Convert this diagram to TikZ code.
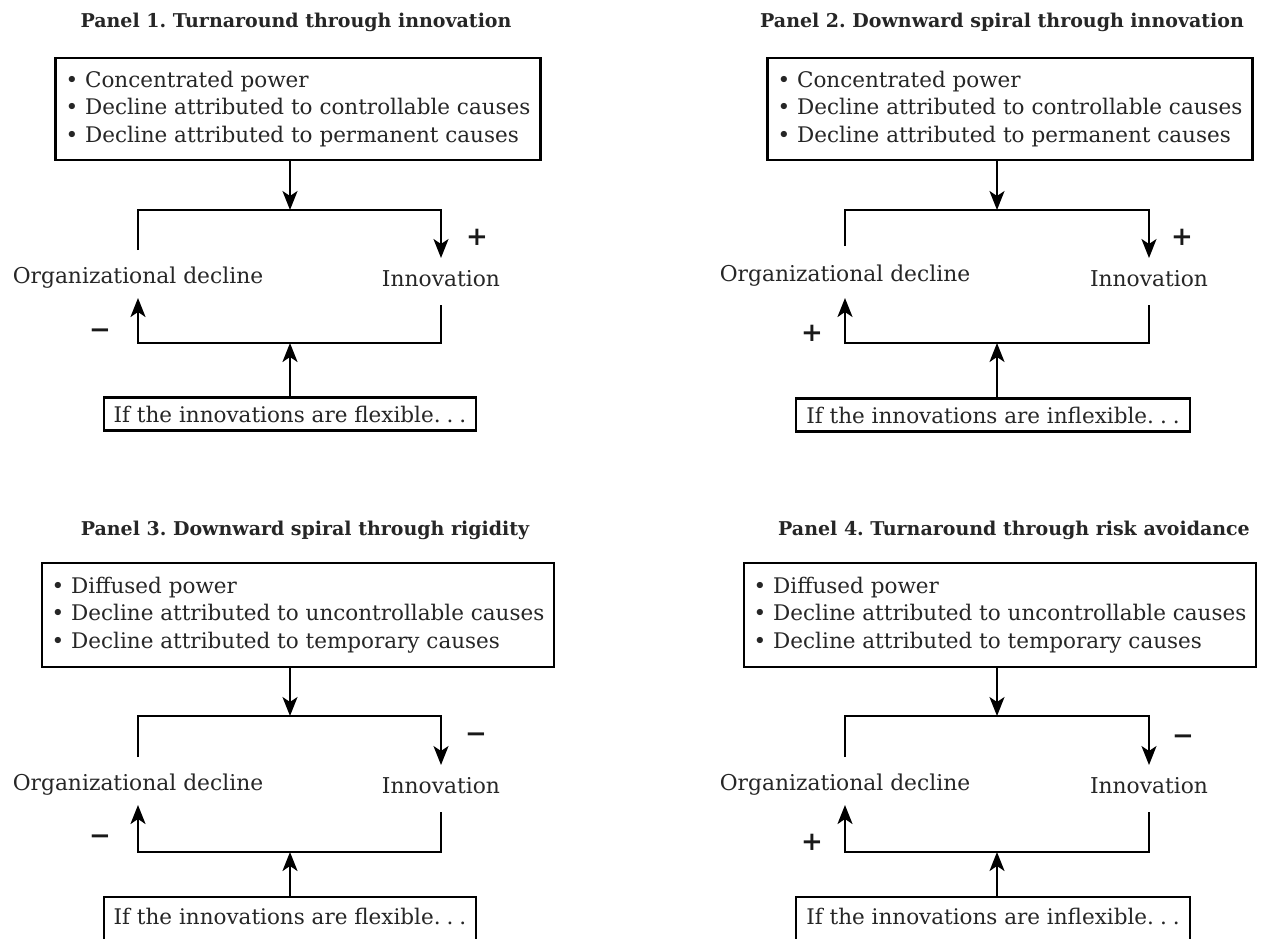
\documentclass[tikz,border=0pt]{standalone}
\usepackage{fontspec}
\setmainfont{DejaVu Serif}
\usetikzlibrary{arrows.meta}
\frenchspacing

\newcommand{\spaceddots}{.\kern6pt.\kern6pt.}

\tikzset{
  x=1pt, y=-1pt,
  every node/.style={inner sep=0pt, outer sep=0pt},
  paneltitle/.style={font=\bfseries\fontsize{19}{22}\selectfont, text=black!85},
  factorbox/.style={draw, line width=2.2pt, align=left, inner xsep=10pt,
    minimum height=102pt, font=\fontsize{21.5}{27.5}\selectfont, text=black!85},
  looplabel/.style={minimum height=48pt, font=\fontsize{21.8}{24}\selectfont, text=black!85},
  condbox/.style={draw, line width=2.2pt, inner xsep=10pt, minimum height=33pt,
    font=\fontsize{21.5}{24}\selectfont, text=black!85},
  sign/.style={font=\bfseries\fontsize{26}{28}\selectfont, text=black!90},
  link/.style={line width=2.2pt, line join=miter},
  arrowlink/.style={link, -{Stealth[length=19pt, width=15pt, inset=5pt]}},
}

\begin{document}
\begin{tikzpicture}
\useasboundingbox (0,0) rectangle (1265,938);
\fill[white] (0,0) rectangle (1265,938);
\clip (0,0) rectangle (1265,938);

% ---------- Panel 1 ----------
\node[paneltitle] (p1title) at (296,22) {Panel 1. Turnaround through innovation};
\node[factorbox] (p1box) at (298,109) {\textbullet\ Concentrated power\\
  \textbullet\ Decline attributed to controllable causes\\
  \textbullet\ Decline attributed to permanent causes};
\node[looplabel] (p1decl) at (138,278) {Organizational decline};
\node[looplabel] (p1innov) at (441,279) {Innovation};
\node[condbox] (p1cond) at (290,414) {If the innovations are flexible\spaceddots};
\coordinate (p1top) at (290,210);
\coordinate (p1bot) at (290,343);
\draw[arrowlink] (p1box.south -| p1top) -- (p1top);
\draw[arrowlink] ([yshift=4pt]p1decl.north) |- (p1top) -| ([yshift=-3pt]p1innov.north);
\draw[arrowlink] ([yshift=-2pt]p1innov.south) |- (p1bot) -| ([yshift=4pt]p1decl.south);
\draw[arrowlink] (p1cond.north -| p1bot) -- (p1bot);
\node[sign] (p1up) at (477,237) {+};
\node[sign] (p1down) at (100,334) {−};

% ---------- Panel 2 ----------
\node[paneltitle] (p2title) at (1002,22) {Panel 2. Downward spiral through innovation};
\node[factorbox] (p2box) at (1010,109) {\textbullet\ Concentrated power\\
  \textbullet\ Decline attributed to controllable causes\\
  \textbullet\ Decline attributed to permanent causes};
\node[looplabel] (p2decl) at (845,276) {Organizational decline};
\node[looplabel] (p2innov) at (1149,279) {Innovation};
\node[condbox] (p2cond) at (993,415) {If the innovations are inflexible\spaceddots};
\coordinate (p2top) at (997,210);
\coordinate (p2bot) at (997,343);
\draw[arrowlink] (p2box.south -| p2top) -- (p2top);
\draw[arrowlink] ([yshift=6pt]p2decl.north) |- (p2top) -| ([yshift=-3pt]p2innov.north);
\draw[arrowlink] ([yshift=-2pt]p2innov.south) |- (p2bot) -| ([yshift=2pt]p2decl.south);
\draw[arrowlink] (p2cond.north -| p2bot) -- (p2bot);
\node[sign] (p2up) at (1182,237) {+};
\node[sign] (p2down) at (812,333) {+};

% ---------- Panel 3 ----------
\node[paneltitle] (p3title) at (305,530) {Panel 3. Downward spiral through rigidity};
\node[factorbox, minimum height=104pt] (p3box) at (298,615) {\textbullet\ Diffused power\\
  \textbullet\ Decline attributed to uncontrollable causes\\
  \textbullet\ Decline attributed to temporary causes};
\node[looplabel] (p3decl) at (138,785) {Organizational decline};
\node[looplabel] (p3innov) at (441,786) {Innovation};
\node[condbox, minimum height=44pt, anchor=north] (p3cond) at (290,897) {\raisebox{5pt}{If the innovations are flexible\spaceddots}};
\coordinate (p3top) at (290,716);
\coordinate (p3bot) at (290,852);
\draw[arrowlink] (p3box.south -| p3top) -- (p3top);
\draw[arrowlink] ([yshift=4pt]p3decl.north) |- (p3top) -| ([yshift=-3pt]p3innov.north);
\draw[arrowlink] ([yshift=-2pt]p3innov.south) |- (p3bot) -| ([yshift=4pt]p3decl.south);
\draw[arrowlink] (p3cond.north -| p3bot) -- (p3bot);
\node[sign] (p3up) at (476,738) {−};
\node[sign] (p3down) at (100,840) {−};

% ---------- Panel 4 ----------
\node[paneltitle] (p4title) at (1014,530) {Panel 4. Turnaround through risk avoidance};
\node[factorbox, minimum height=104pt] (p4box) at (1000,615) {\textbullet\ Diffused power\\
  \textbullet\ Decline attributed to uncontrollable causes\\
  \textbullet\ Decline attributed to temporary causes};
\node[looplabel] (p4decl) at (845,785) {Organizational decline};
\node[looplabel] (p4innov) at (1149,786) {Innovation};
\node[condbox, minimum height=44pt, anchor=north] (p4cond) at (993,897) {\raisebox{5pt}{If the innovations are inflexible\spaceddots}};
\coordinate (p4top) at (997,716);
\coordinate (p4bot) at (997,852);
\draw[arrowlink] (p4box.south -| p4top) -- (p4top);
\draw[arrowlink] ([yshift=4pt]p4decl.north) |- (p4top) -| ([yshift=-3pt]p4innov.north);
\draw[arrowlink] ([yshift=-2pt]p4innov.south) |- (p4bot) -| ([yshift=4pt]p4decl.south);
\draw[arrowlink] (p4cond.north -| p4bot) -- (p4bot);
\node[sign] (p4up) at (1183,740) {−};
\node[sign] (p4down) at (812,842) {+};
\end{tikzpicture}
\end{document}
